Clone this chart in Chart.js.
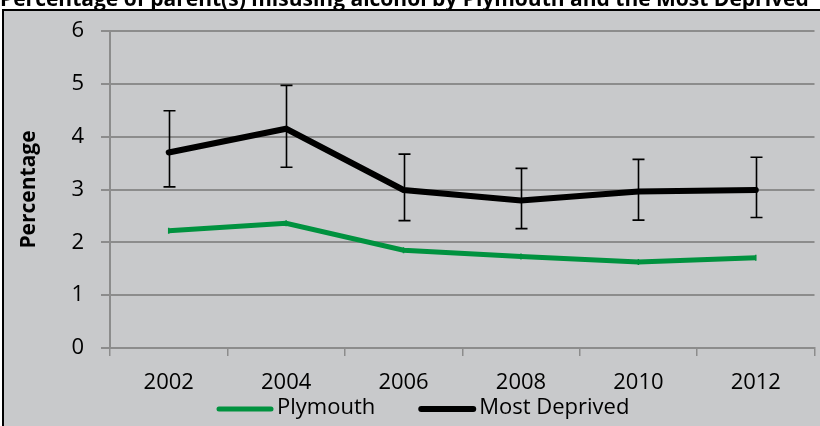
<!DOCTYPE html>
<html>
<head>
<meta charset="utf-8">
<script src="https://cdn.jsdelivr.net/npm/chart.js@4/dist/chart.umd.min.js"></script>
<style>
  html, body { margin: 0; padding: 0; background: #ffffff; }
  #wrap { width: 820px; height: 426px; position: relative; }
</style>
</head>
<body>
<div id="wrap"><canvas id="c" width="820" height="426"></canvas></div>
<script>
// Survey years and percentages
const years = ['2002', '2004', '2006', '2008', '2010', '2012'];
const plymouth = [2.22, 2.36, 1.85, 1.73, 1.63, 1.71];
const mostDeprived = [3.70, 4.15, 2.99, 2.79, 2.96, 2.99];
// 95% confidence interval for the most deprived areas
const mostDeprivedLow = [3.05, 3.42, 2.41, 2.26, 2.42, 2.47];
const mostDeprivedHigh = [4.49, 4.97, 3.67, 3.40, 3.57, 3.61];
const yTicks = [0, 1, 2, 3, 4, 5, 6];
const titleText = 'Percentage of parent(s) misusing alcohol by Plymouth and the Most Deprived';

const FONT = '"Open Sans", "DejaVu Sans", sans-serif';
const PANEL = '#c8c9cb';
const GRID = '#8c8c8c';

// Grey panel with a black frame, plus the heading above it
const backdrop = {
  id: 'backdrop',
  beforeDraw(chart) {
    const ctx = chart.ctx;
    ctx.save();
    ctx.fillStyle = '#ffffff';
    ctx.fillRect(0, 0, chart.width, chart.height);
    ctx.fillStyle = PANEL;
    ctx.fillRect(3, 10, chart.width - 3, chart.height - 10);
    ctx.fillStyle = '#000';
    ctx.font = 'bold 21px ' + FONT;
    ctx.textBaseline = 'alphabetic';
    ctx.textAlign = 'left';
    ctx.fillText(titleText, 0, 6);
    ctx.strokeStyle = '#000';
    ctx.lineWidth = 2;
    ctx.beginPath();
    ctx.moveTo(3, chart.height);
    ctx.lineTo(3, 10);
    ctx.lineTo(chart.width, 10);
    ctx.stroke();
    ctx.restore();
  }
};

// Vertical whiskers with caps for the confidence interval
const errorBars = {
  id: 'errorBars',
  afterDatasetsDraw(chart) {
    const ctx = chart.ctx;
    const xs = chart.scales.x, ys = chart.scales.y;
    ctx.save();
    ctx.strokeStyle = '#000';
    ctx.lineWidth = 1.6;
    const cap = 6;
    mostDeprivedLow.forEach((lo, i) => {
      const x = Math.round(xs.getPixelForValue(i)) + 0.5;
      const yl = ys.getPixelForValue(lo);
      const yh = ys.getPixelForValue(mostDeprivedHigh[i]);
      ctx.beginPath();
      ctx.moveTo(x, yl); ctx.lineTo(x, yh);
      ctx.moveTo(x - cap, yl); ctx.lineTo(x + cap, yl);
      ctx.moveTo(x - cap, yh); ctx.lineTo(x + cap, yh);
      ctx.stroke();
    });
    ctx.restore();
  }
};

// Legend row below the axis: line swatch followed by the series name
const lineLegend = {
  id: 'lineLegend',
  afterDraw(chart) {
    const ctx = chart.ctx;
    ctx.save();
    ctx.font = '22px ' + FONT;
    ctx.textBaseline = 'middle';
    ctx.textAlign = 'left';
    let x = 217;
    const y = 409;
    chart.data.datasets.forEach(ds => {
      ctx.strokeStyle = ds.borderColor;
      ctx.lineWidth = ds.borderWidth;
      ctx.lineCap = 'round';
      ctx.beginPath();
      ctx.moveTo(x + 2, y);
      ctx.lineTo(x + 54, y);
      ctx.stroke();
      ctx.fillStyle = '#000';
      ctx.fillText(ds.label, x + 60, y - 1);
      x += 60 + ctx.measureText(ds.label).width + 44;
    });
    ctx.restore();
  }
};

new Chart(document.getElementById('c'), {
  type: 'line',
  data: {
    labels: years,
    datasets: [
      {
        label: 'Plymouth',
        data: plymouth,
        borderColor: '#00923f',
        backgroundColor: '#00923f',
        borderWidth: 5,
        pointStyle: 'line',
        rotation: 90,
        pointRadius: 3,
        pointBorderWidth: 1.5,
        fill: false,
        tension: 0
      },
      {
        label: 'Most Deprived',
        data: mostDeprived,
        borderColor: '#000000',
        backgroundColor: '#000000',
        borderWidth: 6,
        pointRadius: 0,
        borderCapStyle: 'round',
        fill: false,
        tension: 0
      }
    ]
  },
  options: {
    responsive: false,
    animation: false,
    devicePixelRatio: 1,
    layout: { padding: { top: 31, right: 3, bottom: 18, left: 4 } },
    plugins: {
      legend: { display: false },
      title: { display: false },
      tooltip: { enabled: false }
    },
    scales: {
      x: {
        type: 'category',
        offset: true,
        grid: {
          offset: true,
          drawOnChartArea: false,
          drawTicks: true,
          tickLength: 8,
          color: GRID,
          lineWidth: 1.5
        },
        border: { color: GRID, width: 2 },
        ticks: {
          color: '#000',
          font: { family: FONT, size: 22 },
          padding: 14,
          maxRotation: 0
        },
        afterFit(s) { s.height = 60; }
      },
      y: {
        min: yTicks[0],
        max: yTicks[yTicks.length - 1],
        afterBuildTicks(s) { s.ticks = yTicks.map(v => ({ value: v })); },
        grid: { color: GRID, lineWidth: 2, tickLength: 9 },
        border: { color: GRID, width: 2 },
        ticks: {
          color: '#000',
          font: { family: FONT, size: 22 },
          padding: 17
        },
        title: {
          display: true,
          text: 'Percentage',
          color: '#000',
          font: { family: FONT, size: 21, weight: 'bold' },
          padding: { top: 12, bottom: 0 }
        },
        afterFit(s) { s.width = 106; }
      }
    }
  },
  plugins: [backdrop, errorBars, lineLegend]
});
</script>
</body>
</html>
